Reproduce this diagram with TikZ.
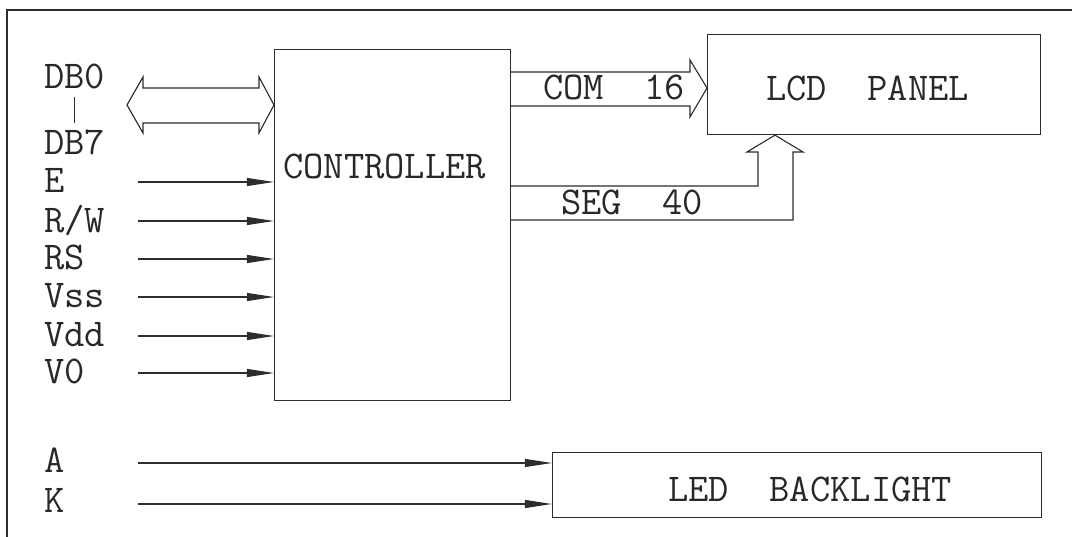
\documentclass[tikz,border=0pt]{standalone}
\usepackage{fontspec}
\usepackage{tikz}
\usetikzlibrary{arrows.meta, positioning, calc}
\definecolor{LineGray}{RGB}{45, 45, 45}
\definecolor{TextGray}{RGB}{40, 40, 40}

\begin{document}
\begin{tikzpicture}[
    x=0.025cm, y=-0.025cm,
    every node/.style={font=\fontsize{28}{30}\selectfont\ttfamily, text=TextGray, inner sep=0pt},
    blockbox/.style={rectangle, draw=LineGray, line width=0.8pt, anchor=north west},
    pinlabel/.style={anchor=base west},
    sigarrow/.style={-{Triangle[length=0.68cm, width=0.2cm]}, draw=LineGray, line width=0.8pt},
    busarrow/.style={draw=LineGray, line width=0.8pt, line join=miter}
  ]
    \useasboundingbox (0,0) rectangle (1072,537);

    % Frame
    \draw[LineGray, line width=1.2pt] (7,537) -- (7,10) -- (1072,10);

    % Blocks
    \node[blockbox, minimum width=5.9cm, minimum height=8.775cm] (ctrl) at (274,49) {};
    \node[blockbox, minimum width=8.325cm, minimum height=2.5cm] (lcd) at (707,34) {};
    \node[blockbox, minimum width=12.225cm, minimum height=1.625cm] (led) at (552,452) {};

    \node[pinlabel] (ctrltxt) at (283,179) {CONTROLLER};
    \node[pinlabel] (lcdtxt) at (766,101) {LCD\ \ PANEL};
    \node[pinlabel] (ledtxt) at (668,501) {LED\ \ BACKLIGHT};
    \node[pinlabel] (comtxt) at (543,100) {COM\ \ 16};
    \node[pinlabel] (segtxt) at (561,215) {SEG\ \ 40};

    % Pins
    \node[pinlabel] (db0) at (44,89) {DB0};
    \node[pinlabel] (db7) at (44,155) {DB7};
    \node[pinlabel] (pinE) at (44,193) {E};
    \node[pinlabel] (pinRW) at (44,233) {R/W};
    \node[pinlabel] (pinRS) at (44,270) {RS};
    \node[pinlabel] (pinVss) at (44,308) {Vss};
    \node[pinlabel] (pinVdd) at (44,347) {Vdd};
    \node[pinlabel] (pinVO) at (44,384) {V0};
    \node[pinlabel] (pinA) at (44,472) {A};
    \node[pinlabel] (pinK) at (44,512) {K};
    \draw[LineGray, line width=0.8pt, shorten <=0.175cm, shorten >=0.175cm] (db0.south) -- (db7.north);

    \coordinate (inE) at (138,182);
    \coordinate (inRW) at (138,221);
    \coordinate (inRS) at (138,259);
    \coordinate (inVss) at (138,297);
    \coordinate (inVdd) at (138,336);
    \coordinate (inVO) at (138,373);
    \coordinate (inA) at (138,463);
    \coordinate (inK) at (138,504);

    % Connections
    \draw[sigarrow] (inE) -- (inE -| ctrl.west);
    \draw[sigarrow] (inRW) -- (inRW -| ctrl.west);
    \draw[sigarrow] (inRS) -- (inRS -| ctrl.west);
    \draw[sigarrow] (inVss) -- (inVss -| ctrl.west);
    \draw[sigarrow] (inVdd) -- (inVdd -| ctrl.west);
    \draw[sigarrow] (inVO) -- (inVO -| ctrl.west);
    \draw[sigarrow] (inA) -- (inA -| led.west);
    \draw[sigarrow] (inK) -- (inK -| led.west);

    % Buses
    \draw[busarrow] (ctrl.west |- 0,105) -- ++(-15,28) -- ++(0,-10) -- ++(-116,0) -- ++(0,10)
      -- ++(-16,-28) -- ++(16,-28) -- ++(0,11) -- ++(116,0) -- ++(0,-11) -- cycle;
    \draw[busarrow] (ctrl.east |- 0,72) -- (690,72) -- (690,60) -- (lcd.west |- 0,88)
      -- (690,117) -- (690,106) -- (ctrl.east |- 0,106);
    \draw[busarrow] (ctrl.east |- 0,186) -- (758,186) -- (758,152) -- (747,152) -- (775,0 |- lcd.south)
      -- (803,152) -- (793,152) -- (793,220) -- (ctrl.east |- 0,220);
  \end{tikzpicture}
\end{document}
